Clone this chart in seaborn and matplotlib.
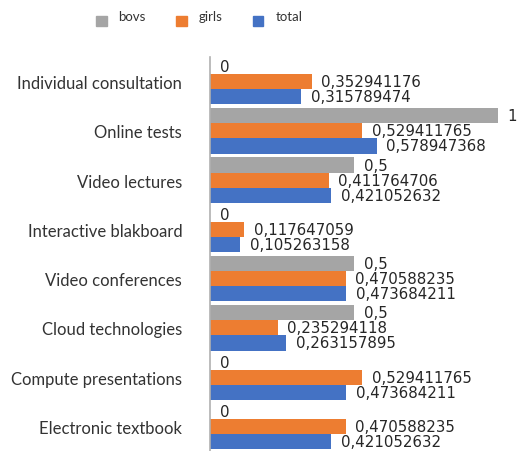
import matplotlib
matplotlib.use("Agg")
import matplotlib.pyplot as plt
import matplotlib.patches as mpatches
import pandas as pd
import seaborn as sns

categories = [
    "Individual consultation",
    "Online tests",
    "Video lectures",
    "Interactive blakboard",
    "Video conferences",
    "Cloud technologies",
    "Compute presentations",
    "Electronic textbook",
]
series_names = ["bovs", "girls", "total"]
boys = [0, 1, 0.5, 0, 0.5, 0.5, 0, 0]
girls = [0.352941176, 0.529411765, 0.411764706, 0.117647059,
         0.470588235, 0.235294118, 0.529411765, 0.470588235]
total = [0.315789474, 0.578947368, 0.421052632, 0.105263158,
         0.473684211, 0.263157895, 0.473684211, 0.421052632]

COLORS = {"bovs": "#a5a5a5", "girls": "#ed7d31", "total": "#4472c4"}

sns.set_style("white")
plt.rcParams["font.family"] = ["Lato", "DejaVu Sans"]

df = pd.DataFrame({"Category": categories, "bovs": boys, "girls": girls, "total": total})
long_df = df.melt(id_vars="Category", var_name="Series", value_name="Value")

fig = plt.figure(figsize=(5.2, 4.52), dpi=100)
ax = fig.add_axes([210 / 520, 0.0, 1 - 210 / 520, 394 / 452])

sns.barplot(
    data=long_df,
    x="Value",
    y="Category",
    hue="Series",
    hue_order=series_names,
    palette=COLORS,
    saturation=1,
    order=categories,
    width=0.92,
    orient="h",
    edgecolor="none",
    linewidth=0,
    legend=False,
    ax=ax,
)

for container in ax.containers:
    labels = [f"{b.get_width():.9g}".replace(".", ",") for b in container]
    ax.bar_label(container, labels=labels, padding=7, fontsize=10.8,
                 color="#262626", family="DejaVu Sans")

ax.set_xlim(0, 310 / 288)
ax.set_xlabel("")
ax.set_ylabel("")
ax.set_xticks([])
ax.tick_params(axis="y", length=0, pad=20, labelsize=12, labelcolor="#333333")
for side in ["top", "right", "bottom"]:
    ax.spines[side].set_visible(False)
ax.spines["left"].set_color("#b0b0b0")
ax.spines["left"].set_linewidth(1.2)

handles = [mpatches.Patch(color=COLORS[s], label=s) for s in series_names]
leg = fig.legend(
    handles=handles,
    loc="upper left",
    bbox_to_anchor=(96 / 520, 1 - 17 / 452),
    ncol=3,
    frameon=False,
    fontsize=9.5,
    handlelength=0.8,
    handleheight=0.8,
    handletextpad=0.9,
    columnspacing=2.3,
    borderpad=0,
    borderaxespad=0,
)
for t in leg.get_texts():
    t.set_color("#333333")
    t.set_y(6)

fig.savefig("out.png", dpi=100)
